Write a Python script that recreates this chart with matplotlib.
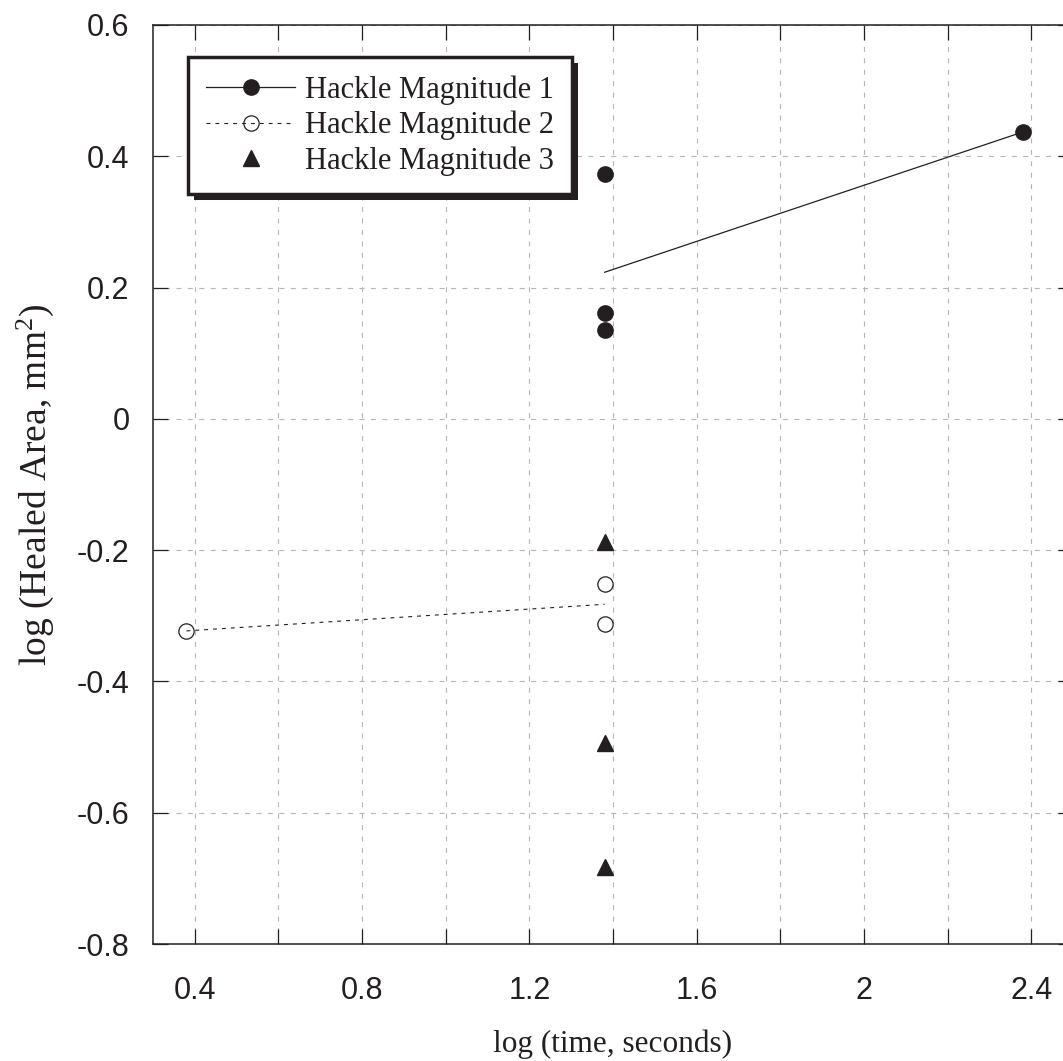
import numpy as np
import matplotlib
matplotlib.use('Agg')
import matplotlib.pyplot as plt
from matplotlib.lines import Line2D
from matplotlib.ticker import MultipleLocator, FuncFormatter
import matplotlib.patheffects as pe

# log10 of healing time (s) and healed area (mm^2) for each hackle magnitude
log_t_h1 = [1.38, 1.38, 1.38, 2.38]
log_a_h1 = [0.373, 0.162, 0.135, 0.437]

log_t_h2 = [0.38, 1.38, 1.38]
log_a_h2 = [-0.323, -0.252, -0.313]

log_t_h3 = [1.38, 1.38, 1.38]
log_a_h3 = [-0.188, -0.494, -0.683]

labels = ['Hackle Magnitude 1', 'Hackle Magnitude 2', 'Hackle Magnitude 3']

INK = '#231f20'
SERIF = 'Liberation Serif'
SANS = 'Liberation Sans'

plt.rcParams['font.family'] = SANS
plt.rcParams['mathtext.default'] = 'regular'

W, H = 1063, 1061
fig = plt.figure(figsize=(W / 100, H / 100), dpi=100)
ax = fig.add_axes([153 / W, (H - 944) / H, (1073 - 153) / W, (944 - 25) / H])

ax.set_xlim(0.3, 2.5)
ax.set_ylim(-0.8, 0.6)

# least-squares trend lines over the span of each series
def fit_line(x, y):
    k, b = np.polyfit(x, y, 1)
    xs = np.array([min(x), max(x)])
    return xs, k * xs + b

xs1, ys1 = fit_line(log_t_h1, log_a_h1)
xs2, ys2 = fit_line(log_t_h2, log_a_h2)

ax.plot(xs1, ys1, color=INK, lw=0.9, zorder=3)
ax.plot(xs2, ys2, color=INK, lw=0.8, ls=(0, (3.5, 4.5)), zorder=3)

ms = 11
ax.plot(log_t_h1, log_a_h1, ls='none', marker='o', ms=ms, color=INK, zorder=4)
ax.plot(log_t_h2, log_a_h2, ls='none', marker='o', ms=ms, mfc='none',
        mec=INK, mew=0.9, zorder=4)
ax.plot(log_t_h3, log_a_h3, ls='none', marker='^', ms=ms, color=INK, zorder=4)

# axes, ticks and grid
fmt = FuncFormatter(lambda v, p: '%g' % round(v, 3))
ax.xaxis.set_major_locator(MultipleLocator(0.4))
ax.xaxis.set_minor_locator(MultipleLocator(0.2))
ax.yaxis.set_major_locator(MultipleLocator(0.2))
ax.xaxis.set_major_formatter(fmt)
ax.yaxis.set_major_formatter(fmt)

ax.tick_params(which='both', direction='in', top=True, right=True,
               length=11, width=0.9, color=INK)
ax.tick_params(axis='x', which='major', pad=23, labelsize=22, labelcolor=INK)
ax.tick_params(axis='y', which='major', pad=17, labelsize=22, labelcolor=INK)
for lbl in ax.get_xticklabels() + ax.get_yticklabels():
    lbl.set_fontfamily(SANS)

ax.grid(True, which='both', color='#b5b5b5', lw=0.8, ls=(0, (4.5, 5.8)))
ax.set_axisbelow(True)
for sp in ax.spines.values():
    sp.set_linewidth(1.1)
    sp.set_color(INK)

ax.set_xlabel('log (time, seconds)', fontsize=22.5, family=SERIF, color=INK,
              labelpad=17)
ax.set_ylabel('log (Healed Area, mm$^{2}$)', fontsize=27, family=SERIF,
              color=INK, labelpad=15)

# legend with solid drop shadow
handles = [
    Line2D([], [], color=INK, lw=0.9, marker='o', ms=ms),
    Line2D([], [], color=INK, lw=0.8, ls=(0, (3.5, 4.5)), marker='o', ms=ms,
           mfc='none', mew=0.9),
    Line2D([], [], ls='none', color=INK, marker='^', ms=ms),
]
leg = ax.legend(handles, labels, loc='upper left',
                bbox_to_anchor=(188 / W, 1 - 57 / H), bbox_transform=fig.transFigure,
                borderaxespad=0, prop={'family': SERIF, 'size': 22},
                fancybox=False, frameon=True, framealpha=1, edgecolor=INK,
                borderpad=0.6, labelspacing=0.2, handlelength=2.9,
                handletextpad=0.33)
frame = leg.get_frame()
frame.set_linewidth(2.5)
frame.set_path_effects([
    pe.SimplePatchShadow(offset=(4, -4), shadow_rgbFace=INK, alpha=1),
    pe.Normal(),
])
for t in leg.get_texts():
    t.set_color(INK)

fig.savefig('out.png', dpi=100, facecolor='white')
